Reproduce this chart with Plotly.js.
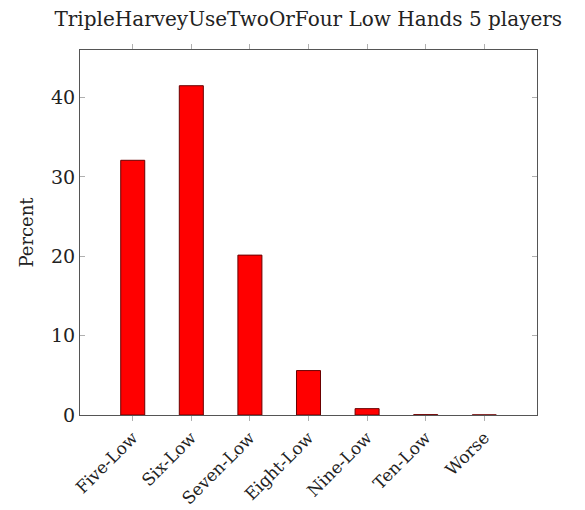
<!DOCTYPE html>
<html>
<head>
<meta charset="utf-8">
<script src="https://cdn.plot.ly/plotly-3.0.1.min.js"></script>
<style>html,body{margin:0;padding:0;background:#fff;}#chart{width:585px;height:510px;}</style>
</head>
<body>
<div id="chart"></div>
<script>
const categories = ["Five-Low", "Six-Low", "Seven-Low", "Eight-Low", "Nine-Low", "Ten-Low", "Worse"];
const percents = [32.1, 41.5, 20.15, 5.6, 0.8, 0.04, 0.01];
const yTicks = [0, 10, 20, 30, 40];
const titleText = "TripleHarveyUseTwoOrFour Low Hands 5 players";
const yTitle = "Percent";

const font = "DejaVu Serif, serif";

const trace = {
  type: "bar",
  x: categories,
  y: percents,
  width: 0.41,
  marker: { color: "#ff0000", line: { color: "#6a0000", width: 1 } },
  hoverinfo: "x+y"
};

const layout = {
  width: 585, height: 510,
  margin: { l: 80, r: 48, t: 50, b: 95 },
  paper_bgcolor: "#fff", plot_bgcolor: "#fff",
  showlegend: false,
  font: { family: font, color: "#222", size: 18 },
  title: { text: titleText, x: 0.527, xanchor: "center", y: 0.962, yanchor: "middle", font: { family: font, size: 20, color: "#222" } },
  xaxis: {
    type: "category",
    range: [-0.9, 6.9],
    tickangle: -45,
    ticks: "outside", ticklen: 5, tickcolor: "#b0b0b0", tickwidth: 1,
    showline: true, linecolor: "#555", linewidth: 1, mirror: "ticks",
    showgrid: false, zeroline: false,
    tickfont: { family: font, size: 17, color: "#222" }
  },
  yaxis: {
    range: [0, 46.0],
    tickvals: yTicks,
    ticks: "inside", ticklen: 5, tickcolor: "#b0b0b0", tickwidth: 1,
    showline: true, linecolor: "#555", linewidth: 1, mirror: "ticks",
    showgrid: false, zeroline: false,
    tickfont: { family: font, size: 19, color: "#222" },
    title: { text: yTitle, standoff: 12, font: { family: font, size: 18, color: "#222" } }
  }
};

Plotly.newPlot("chart", [trace], layout, { staticPlot: true, displayModeBar: false });
</script>
</body>
</html>
